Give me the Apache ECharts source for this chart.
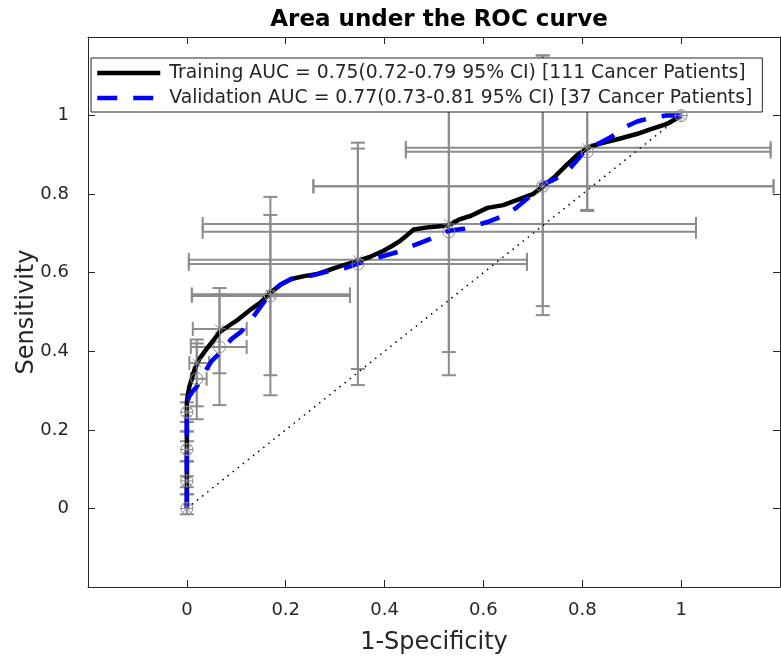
<!DOCTYPE html>
<html>
<head>
<meta charset="utf-8">
<script src="https://cdn.jsdelivr.net/npm/echarts@6/dist/echarts.min.js"></script>
<style>html,body{margin:0;padding:0;background:#fff}#c{width:781px;height:659px}</style>
</head>
<body>
<div id="c"></div>
<script>
// ---- data ----
var xTicks = [0, 0.2, 0.4, 0.6, 0.8, 1];
var yTicks = [0, 0.2, 0.4, 0.6, 0.8, 1];

var trainX = [0, 0, 0.002, 0.005, 0.01, 0.016, 0.025, 0.04, 0.055, 0.066, 0.085, 0.105, 0.131, 0.15, 0.171, 0.19, 0.211, 0.24, 0.265, 0.306, 0.346, 0.37, 0.398, 0.415, 0.429, 0.445, 0.459, 0.49, 0.529, 0.55, 0.575, 0.608, 0.64, 0.674, 0.7, 0.72, 0.745, 0.769, 0.79, 0.815, 0.84, 0.875, 0.91, 0.942, 0.97, 0.99, 1];
var trainY = [0, 0.27, 0.29, 0.31, 0.33, 0.355, 0.38, 0.406, 0.43, 0.449, 0.465, 0.482, 0.508, 0.525, 0.551, 0.57, 0.584, 0.592, 0.597, 0.615, 0.630, 0.64, 0.656, 0.668, 0.679, 0.695, 0.71, 0.716, 0.72, 0.735, 0.745, 0.765, 0.772, 0.788, 0.8, 0.819, 0.845, 0.875, 0.9, 0.921, 0.93, 0.941, 0.953, 0.967, 0.978, 0.992, 1];

var validX = [0, 0, 0.005, 0.01, 0.02, 0.03, 0.04, 0.05, 0.07, 0.09, 0.11, 0.131, 0.15, 0.171, 0.19, 0.211, 0.25, 0.29, 0.32, 0.358, 0.39, 0.427, 0.45, 0.479, 0.5, 0.529, 0.56, 0.608, 0.64, 0.664, 0.69, 0.708, 0.74, 0.765, 0.785, 0.809, 0.835, 0.859, 0.885, 0.911, 0.94, 0.97, 1];
var validY = [0, 0.27, 0.285, 0.296, 0.31, 0.334, 0.355, 0.375, 0.40, 0.431, 0.45, 0.482, 0.515, 0.551, 0.57, 0.584, 0.592, 0.605, 0.612, 0.628, 0.64, 0.653, 0.665, 0.679, 0.69, 0.707, 0.712, 0.729, 0.745, 0.763, 0.79, 0.819, 0.835, 0.852, 0.88, 0.916, 0.93, 0.946, 0.97, 0.985, 0.995, 1.0, 1];

var chanceX = [0, 1];
var chanceY = [0, 1];

// operating points with 95% CI: x, y, xLow, xHigh, yLow, yHigh
var trainPtX  = [0, 0, 0, 0, 0.02, 0.066, 0.169, 0.346, 0.53, 0.72, 0.81, 1];
var trainPtY  = [0, 0.07, 0.15, 0.245, 0.37, 0.457, 0.545, 0.633, 0.724, 0.82, 0.918, 1];
var trainXLo  = [0, 0, 0, 0, 0.005, 0.012, 0.010, 0.004, 0.032, 0.256, 0.443, 1];
var trainXHi  = [0, 0, 0, 0, 0.045, 0.121, 0.330, 0.688, 1.030, 1.187, 1.181, 1];
var trainYLo  = [-0.015, 0.036, 0.12, 0.196, 0.26, 0.344, 0.339, 0.355, 0.398, 0.515, 0.757, 1];
var trainYHi  = [0.036, 0.12, 0.196, 0.29, 0.43, 0.561, 0.793, 0.931, 1.10, 1.153, 1.10, 1];

var validPtX  = [0, 0, 0, 0, 0.02, 0.066, 0.169, 0.346, 0.53, 0.72, 0.81, 1];
var validPtY  = [0, 0.07, 0.15, 0.245, 0.33, 0.411, 0.541, 0.622, 0.704, 0.82, 0.908, 1];
var validXLo  = [0, 0, 0, 0, 0.008, 0.008, 0.010, 0.004, 0.032, 0.256, 0.443, 1];
var validXHi  = [0, 0, 0, 0, 0.040, 0.121, 0.330, 0.688, 1.030, 1.187, 1.181, 1];
var validYLo  = [0, 0.054, 0.12, 0.22, 0.227, 0.263, 0.288, 0.314, 0.339, 0.492, 0.76, 1];
var validYHi  = [0, 0.082, 0.171, 0.27, 0.42, 0.545, 0.747, 0.916, 1.05, 1.153, 1.06, 1];

var trainName = 'Training AUC = 0.75(0.72-0.79 95% CI) [111 Cancer Patients]';
var validName = 'Validation AUC = 0.77(0.73-0.81 95% CI) [37 Cancer Patients]';

// ---- build ----
function zip(a, b) { return a.map(function (v, i) { return [v, b[i]]; }); }
function zip6(a, b, c, d, e, f) { return a.map(function (v, i) { return [v, b[i], c[i], d[i], e[i], f[i]]; }); }

var GRAY = '#8c8c8c';
var FONT = 'DejaVu Sans';
var TXT = '#262626';

function errSeries(data) {
  return {
    type: 'custom', z: 1, silent: true, data: data,
    renderItem: function (params, api) {
      var x = api.value(0), y = api.value(1), xlo = api.value(2), xhi = api.value(3), ylo = api.value(4), yhi = api.value(5);
      var cs = params.coordSys;
      var L = cs.x, R = cs.x + cs.width, T = cs.y, B = cs.y + cs.height;
      var p = api.coord([x, y]);
      var pl = api.coord([xlo, y]), ph = api.coord([xhi, y]);
      var pb = api.coord([x, ylo]), pt = api.coord([x, yhi]);
      var style = { stroke: GRAY, lineWidth: 2, fill: null };
      var ch = [];
      function seg(x1, y1, x2, y2) { ch.push({ type: 'line', shape: { x1: x1, y1: y1, x2: x2, y2: y2 }, style: style }); }
      var c = 7;
      if (xhi > xlo) {
        seg(Math.max(pl[0], L), p[1], Math.min(ph[0], R), p[1]);
        if (pl[0] >= L) seg(pl[0], p[1] - c, pl[0], p[1] + c);
        if (ph[0] <= R) seg(ph[0], p[1] - c, ph[0], p[1] + c);
      }
      if (yhi > ylo) {
        seg(p[0], Math.max(pt[1], T), p[0], Math.min(pb[1], B));
        if (pt[1] >= T) seg(p[0] - c, pt[1], p[0] + c, pt[1]);
        if (pb[1] <= B) seg(p[0] - c, pb[1], p[0] + c, pb[1]);
      }
      return { type: 'group', children: ch };
    }
  };
}

function markerSeries(data, kind) {
  return {
    type: 'custom', z: 6, silent: true, data: data,
    renderItem: function (params, api) {
      var p = api.coord([api.value(0), api.value(1)]);
      var style = { stroke: GRAY, lineWidth: 1, fill: null };
      if (kind === 'circle') {
        return { type: 'circle', shape: { cx: p[0], cy: p[1], r: 6 }, style: style };
      }
      var r = 6.5, d = r * 0.707, ch = [];
      [[-r, 0, r, 0], [0, -r, 0, r], [-d, -d, d, d], [-d, d, d, -d]].forEach(function (s) {
        ch.push({ type: 'line', shape: { x1: p[0] + s[0], y1: p[1] + s[1], x2: p[0] + s[2], y2: p[1] + s[3] }, style: style });
      });
      return { type: 'group', children: ch };
    }
  };
}

function fmt(v) {
  if (v < -0.001 || v > 1.001) return '';
  return String(Math.round(v * 10) / 10);
}

var axisCommon = {
  min: -0.2, max: 1.2, interval: 0.2,
  axisLine: { show: true, onZero: false, lineStyle: { color: TXT, width: 1 } },
  axisTick: { show: true, inside: true, length: 7, lineStyle: { color: TXT } },
  splitLine: { show: false }
};

var option = {
  animation: false,
  backgroundColor: '#fff',
  title: {
    text: 'Area under the ROC curve', left: 434, top: 4, textAlign: 'center',
    textStyle: { fontFamily: FONT, fontWeight: 'bold', fontSize: 23, color: '#000' }
  },
  grid: { left: 88, top: 37, width: 692, height: 550, containLabel: false, outerBoundsMode: 'none' },
  legend: {
    data: [trainName, validName],
    orient: 'vertical', left: 91, top: 58,
    itemWidth: 63, itemHeight: 20, itemGap: 5,
    padding: [5, 10, 4, 4],
    backgroundColor: '#fff', borderColor: TXT, borderWidth: 1, borderRadius: 0,
    lineStyle: { width: 4.5 },
    itemStyle: { color: 'rgba(0,0,0,0)', borderWidth: 0, opacity: 0 },
    textStyle: { fontFamily: FONT, fontSize: 18.8, color: TXT, lineHeight: 20, padding: [0, 0, 0, 4] },
    selectedMode: false
  },
  xAxis: [
    Object.assign({}, axisCommon, {
      type: 'value', position: 'bottom',
      name: '1-Specificity', nameLocation: 'middle', nameGap: 44, nameMoveOverlap: false,
      nameTextStyle: { fontFamily: FONT, fontSize: 24, color: TXT },
      axisLabel: { formatter: fmt, fontFamily: FONT, fontSize: 18, color: TXT, margin: 14 }
    }),
    Object.assign({}, axisCommon, { type: 'value', position: 'top', axisLabel: { show: false } })
  ],
  yAxis: [
    Object.assign({}, axisCommon, {
      type: 'value', position: 'left',
      name: 'Sensitivity', nameLocation: 'middle', nameGap: 49, nameMoveOverlap: false,
      nameTextStyle: { fontFamily: FONT, fontSize: 24, color: TXT },
      axisLabel: { formatter: fmt, fontFamily: FONT, fontSize: 18, color: TXT, margin: 19 }
    }),
    Object.assign({}, axisCommon, { type: 'value', position: 'right', axisLabel: { show: false } })
  ],
  series: [
    errSeries(zip6(trainPtX, trainPtY, trainXLo, trainXHi, trainYLo, trainYHi)),
    errSeries(zip6(validPtX, validPtY, validXLo, validXHi, validYLo, validYHi)),
    {
      type: 'line', name: 'chance', data: zip(chanceX, chanceY), symbol: 'none', z: 2, silent: true,
      lineStyle: { color: '#000', width: 1.5, type: [1.5, 5] }
    },
    {
      type: 'line', name: trainName, data: zip(trainX, trainY), symbol: 'none', showSymbol: false, z: 3,
      lineStyle: { color: '#000', width: 4.5, join: 'round' }, itemStyle: { color: '#000' }
    },
    {
      type: 'line', name: validName, data: zip(validX, validY), symbol: 'none', showSymbol: false, z: 4,
      lineStyle: { color: '#0000ff', width: 4.5, type: [20, 16] }, itemStyle: { color: '#0000ff' }
    },
    markerSeries(zip(trainPtX, trainPtY), 'star'),
    markerSeries(zip(validPtX, validPtY), 'circle')
  ]
};

var chart = echarts.init(document.getElementById('c'), null, { renderer: 'canvas' });
chart.setOption(option);
</script>
</body>
</html>
